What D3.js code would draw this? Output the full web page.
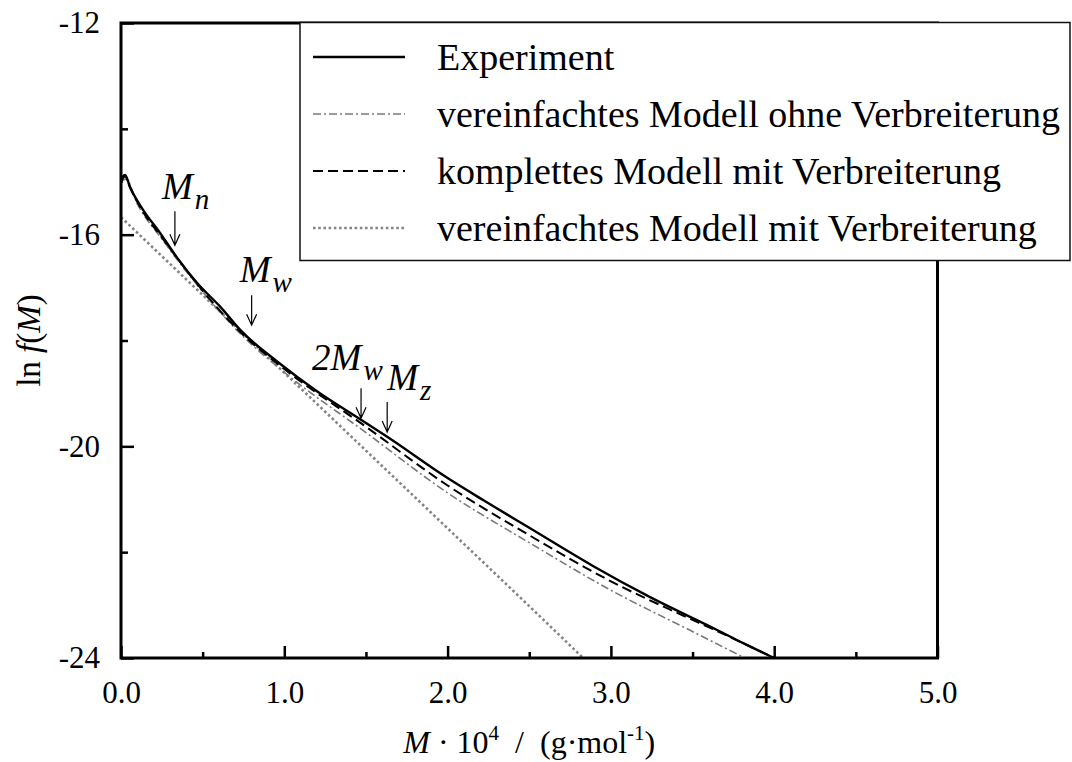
<!DOCTYPE html>
<html><head><meta charset="utf-8">
<script src="https://cdn.jsdelivr.net/npm/d3@7"></script>
<style>
body{margin:0;background:#fff}
svg{display:block}
svg text{font-family:"Liberation Serif","Times New Roman",Times,serif;fill:#000}
</style>
</head><body>
<svg id="chart" width="1072" height="762"></svg>
<script>
// ---------- data ----------
const xTickValues = [0, 1, 2, 3, 4, 5];
const xTickLabels = ["0.0", "1.0", "2.0", "3.0", "4.0", "5.0"];
const xMinorTicks = [0.5, 1.5, 2.5, 3.5, 4.5];
const yTickValues = [-24, -20, -16, -12];
const yTickLabels = ["-24", "-20", "-16", "-12"];
const yMinorTicks = [-22, -18, -14];

const legendLabels = [
  "Experiment",
  "vereinfachtes Modell ohne Verbreiterung",
  "komplettes Modell mit Verbreiterung",
  "vereinfachtes Modell mit Verbreiterung"
];

const experiment = [[0.003,-15.02],[0.012,-14.90],[0.025,-14.87],[0.055,-15.10],[0.135,-15.53],[0.24,-15.97],[0.34,-16.42],[0.465,-16.91],[0.61,-17.37],[0.73,-17.80],[0.97,-18.43],[1.2,-18.96],[1.46,-19.48],[1.63,-19.82],[2.0,-20.60],[2.22,-21.02],[2.49,-21.52],[2.89,-22.26],[3.24,-22.85],[3.65,-23.47],[3.81,-23.72],[4.0,-24.0]];
const simpleNoBroadening = [[0.0,-15.0],[0.03,-14.95],[0.1,-15.42],[0.25,-16.08],[0.5,-17.08],[0.75,-17.93],[1.0,-18.60],[1.5,-19.74],[2.0,-20.88],[2.5,-21.82],[3.0,-22.72],[3.5,-23.5],[3.82,-24.0]];
const completeWithBroadening = [[0.005,-14.97],[0.025,-14.90],[0.06,-15.14],[0.135,-15.57],[0.25,-16.05],[0.5,-17.06],[0.75,-17.90],[1.0,-18.54],[1.5,-19.63],[2.0,-20.74],[2.5,-21.68],[3.0,-22.55],[3.4,-23.14],[3.65,-23.49],[4.0,-24.0]];
const simpleWithBroadening = [[0,-15.67],[0.5,-17.14],[1.0,-18.61],[1.5,-20.08],[2.0,-21.55],[2.5,-23.02],[2.83,-24.0]];

// averages marked by arrows
const markerMain = ["M", "M", "2M", "M"];
const markerSub = ["n", "w", "w", "z"];
const markerM = [0.33, 0.80, 1.47, 1.63];
const markerTip = [-16.2, -17.71, -19.47, -19.73];

// ---------- layout ----------
const FONT = '"Liberation Serif","Times New Roman",Times,serif';
const L = 121, R = 937.5, T = 23, B = 658;
const svg = d3.select("#chart");
const x = d3.scaleLinear().domain([0, 5]).range([L, R]);
const y = d3.scaleLinear().domain([-24, -12]).range([B, T]);

const styles = [
  {stroke:"#000", width:2.4, dash:null},
  {stroke:"#7a7a7a", width:1.6, dash:"8,3,2,3"},
  {stroke:"#000", width:2, dash:"10,5"},
  {stroke:"#858585", width:2.6, dash:"2.6,2.6"}
];
const series = [experiment, simpleNoBroadening, completeWithBroadening, simpleWithBroadening];

const line = d3.line().x(d => x(d[0])).y(d => y(d[1])).curve(d3.curveMonotoneX);
[3,1,2,0].forEach(i => {
  svg.append("path").datum(series[i])
    .attr("d", line).attr("fill","none")
    .attr("stroke", styles[i].stroke).attr("stroke-width", styles[i].width)
    .attr("stroke-dasharray", styles[i].dash);
});

// axes
const fs = 31;
svg.append("g").attr("transform", `translate(0,${B})`)
  .call(d3.axisBottom(x).tickValues(xTickValues).tickSize(-12).tickPadding(23)
    .tickFormat((d,i) => xTickLabels[i]));
svg.append("g").attr("transform", `translate(0,${B})`)
  .call(d3.axisBottom(x).tickValues(xMinorTicks).tickSize(-6).tickFormat(""));
svg.append("g").attr("transform", `translate(${L},0)`)
  .call(d3.axisLeft(y).tickValues(yTickValues).tickSize(-13).tickPadding(21)
    .tickFormat((d,i) => yTickLabels[i]));
svg.append("g").attr("transform", `translate(${L},0)`)
  .call(d3.axisLeft(y).tickValues(yMinorTicks).tickSize(-7).tickFormat(""));
svg.selectAll(".domain").remove();
svg.selectAll("g").attr("font-family", FONT);
svg.selectAll(".tick line").attr("stroke","#000").attr("stroke-width",2.5);
svg.selectAll(".tick text").attr("font-size",fs).attr("fill","#000");

// frame
svg.append("rect").attr("x",L).attr("y",T).attr("width",R-L).attr("height",B-T)
  .attr("fill","none").attr("stroke","#000").attr("stroke-width",3);

// legend box
const lg = svg.append("g");
lg.append("rect").attr("x",300).attr("y",22.5).attr("width",770).attr("height",238)
  .attr("fill","#fff").attr("stroke","#111").attr("stroke-width",1.5);
legendLabels.forEach((lab,i) => {
  const cy = 57 + i*57;
  lg.append("line").attr("x1",313).attr("x2",405).attr("y1",cy).attr("y2",cy)
    .attr("stroke",styles[i].stroke).attr("stroke-width",styles[i].width)
    .attr("stroke-dasharray",styles[i].dash);
  lg.append("text").attr("x",437).attr("y",cy).attr("dy","0.33em")
    .attr("font-size",38).text(lab);
});

// arrows and labels
const arrowLen = [34, 30, 30, 30];
const labelDx = [-13, -12, -49, 0];
const labelGap = [12, 13, 18, 12];
markerM.forEach((m,i) => {
  const ax = x(m), ty = y(markerTip[i]), top = ty - arrowLen[i];
  svg.append("path")
    .attr("d", `M${ax},${top}L${ax},${ty}M${ax-5},${ty-11}L${ax},${ty}L${ax+5},${ty-11}`)
    .attr("fill","none").attr("stroke","#000").attr("stroke-width",1.2);
  const t = svg.append("text").attr("x", ax + labelDx[i]).attr("y", top - labelGap[i])
    .attr("font-size",37).attr("font-style","italic");
  t.append("tspan").text(markerMain[i]);
  t.append("tspan").attr("font-size",29).attr("dy",10).attr("dx",2).text(markerSub[i]);
});

// axis titles
const xt = svg.append("text").attr("x",(L+R)/2).attr("y",753)
  .attr("text-anchor","middle").attr("font-size",32);
xt.append("tspan").attr("font-style","italic").text("M");
xt.append("tspan").text(" · 10");
xt.append("tspan").attr("font-size",21).attr("dy",-13).text("4");
xt.append("tspan").attr("dy",13).text("\u00a0\u00a0/\u00a0\u00a0(g·mol");
xt.append("tspan").attr("font-size",21).attr("dy",-13).text("-1");
xt.append("tspan").attr("dy",13).text(")");

const yt = svg.append("text").attr("transform",`translate(40,${(T+B)/2}) rotate(-90)`)
  .attr("text-anchor","middle").attr("font-size",33);
yt.append("tspan").text("ln ");
yt.append("tspan").attr("font-style","italic").text("f");
yt.append("tspan").text("(");
yt.append("tspan").attr("font-style","italic").text("M");
yt.append("tspan").text(")");
</script>
</body></html>
